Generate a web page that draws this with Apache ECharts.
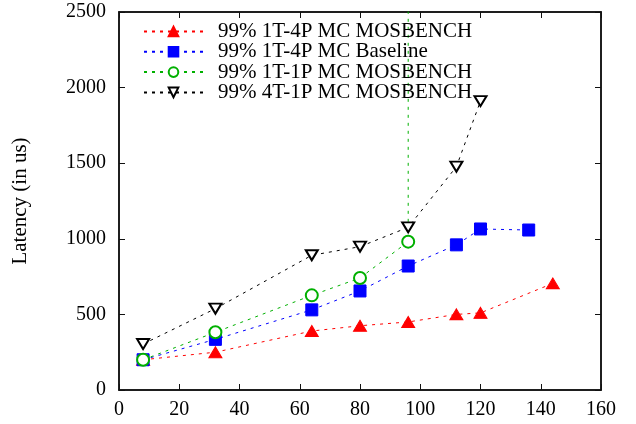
<!DOCTYPE html>
<html>
<head>
<meta charset="utf-8">
<script src="https://cdn.jsdelivr.net/npm/echarts@6/dist/echarts.min.js"></script>
<style>
  html, body { margin: 0; padding: 0; background: #fff; }
  #chart { width: 636px; height: 424px; }
</style>
</head>
<body>
<div id="chart"></div>
<script>
// data (x = cores, y = latency in us)
var redX = [8, 32, 64, 80, 96, 112, 120, 144];
var redY = [200, 250, 390, 425, 450, 500, 510, 705];
var blueX = [8, 32, 64, 80, 96, 112, 120, 136];
var blueY = [200, 335, 530, 655, 820, 960, 1065, 1058];
// last green point is off the scale (line goes straight up and is clipped)
var greenX = [8, 32, 64, 80, 96, 96];
var greenY = [200, 382, 626, 741, 981, 5000];
var blackX = [8, 32, 64, 80, 96, 112, 120];
var blackY = [304, 538, 891, 948, 1076, 1477, 1911];
var names = ['99% 1T-4P MC MOSBENCH', '99% 1T-4P MC Baseline', '99% 1T-1P MC MOSBENCH', '99% 4T-1P MC MOSBENCH'];

function pairs(xs, ys) {
  return xs.map(function (x, i) { return [x, ys[i]]; });
}

var font = 'Liberation Serif';
var axisCol = '#111';
var chart = echarts.init(document.getElementById('chart'));

// xi/yi: which axis pair the series sits on (both pairs share the same scale)
function mkSeries(name, xs, ys, color, symbol, size, rotate, xi, yi) {
  return {
    name: name,
    type: 'line',
    xAxisIndex: xi || 0,
    yAxisIndex: yi || 0,
    data: pairs(xs, ys),
    symbol: symbol,
    symbolSize: size,
    symbolRotate: rotate || 0,
    clip: true,
    lineStyle: { color: color, width: 1, type: [3, 5] },
    itemStyle: { color: color, borderColor: color, borderWidth: 1 },
    emphasis: { disabled: true }
  };
}

function tick() { return { show: true, inside: true, length: 6, lineStyle: { color: axisCol, width: 1 } }; }
function line() { return { show: true, onZero: false, lineStyle: { color: axisCol, width: 1.5 } }; }

var option = {
  animation: false,
  grid: { left: 119, right: 35, top: 12, bottom: 34, show: true, borderColor: axisCol, borderWidth: 1.5 },
  legend: {
    left: 143, top: 21, orient: 'vertical', padding: 0,
    itemWidth: 59, itemHeight: 12, itemGap: -0.7,
    textStyle: { fontFamily: font, fontSize: 21, lineHeight: 19, color: '#000', padding: [0, 0, 0, 10] },
    data: names
  },
  xAxis: [{
    type: 'value', min: 0, max: 160, interval: 20,
    axisLine: line(), axisTick: tick(),
    axisLabel: { fontFamily: font, fontSize: 20, color: '#000', margin: 10 },
    splitLine: { show: false }
  }, {
    type: 'value', min: 0, max: 160, interval: 20, position: 'top',
    axisLine: line(), axisTick: tick(),
    axisLabel: { show: false },
    splitLine: { show: false }
  }],
  yAxis: [{
    type: 'value', min: 0, max: 2500, interval: 500,
    name: 'Latency (in us)', nameLocation: 'middle', nameGap: 88, nameRotate: 90,
    nameTextStyle: { fontFamily: font, fontSize: 21, color: '#000' },
    axisLine: line(), axisTick: tick(),
    axisLabel: { fontFamily: font, fontSize: 20, color: '#000', margin: 13, formatter: function (v) { return String(v); } },
    splitLine: { show: false }
  }, {
    type: 'value', min: 0, max: 2500, interval: 500, position: 'right',
    axisLine: line(), axisTick: tick(),
    axisLabel: { show: false },
    splitLine: { show: false }
  }],
  series: [
    mkSeries(names[0], redX, redY, '#ff0000', 'triangle', [13, 11]),
    mkSeries(names[1], blueX, blueY, '#0000ff', 'rect', 12),
    mkSeries(names[2], greenX, greenY, '#00b000', 'emptyCircle', 12),
    mkSeries(names[3], blackX, blackY, '#000000', 'emptyTriangle', [12, 10], 180, 1, 1)
  ]
};
chart.setOption(option);
</script>
</body>
</html>
